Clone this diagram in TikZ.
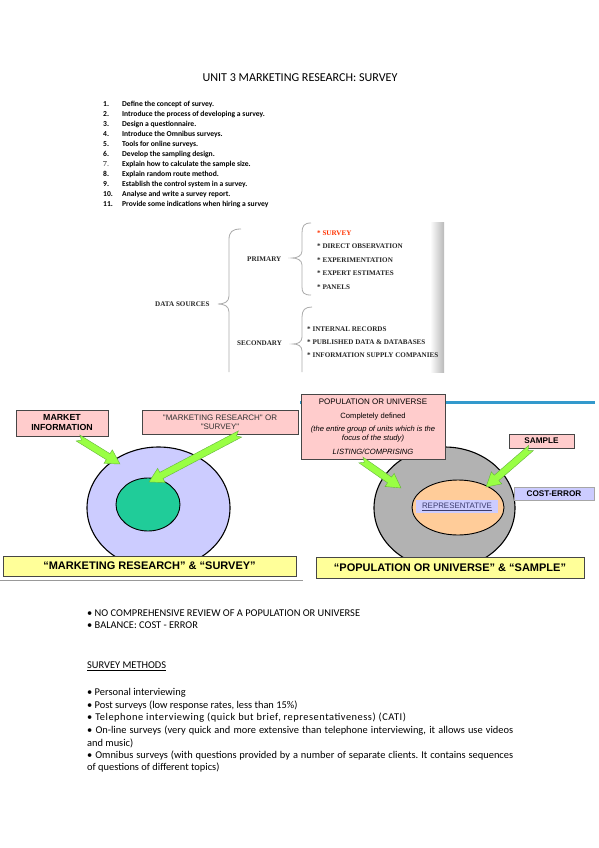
\documentclass[tikz,border=0pt]{standalone}
\usepackage{fontspec}
\setmainfont{Carlito}
\newfontfamily\arialf{Liberation Sans}
\newfontfamily\timesf{Liberation Serif}
\usetikzlibrary{calc,shapes.geometric}
\frenchspacing
\definecolor{pinkfill}{RGB}{255,204,204}
\definecolor{boxline}{RGB}{70,70,70}
\definecolor{lavender}{RGB}{204,204,255}
\definecolor{teal}{RGB}{32,204,153}
\definecolor{greyc}{RGB}{178,178,178}
\definecolor{orangec}{RGB}{255,204,153}
\definecolor{yellowc}{RGB}{255,255,153}
\definecolor{arrowfill}{RGB}{153,255,68}
\definecolor{arrowline}{RGB}{100,180,60}
\definecolor{bluebar}{RGB}{51,153,204}
\definecolor{surveyred}{RGB}{255,51,0}
\definecolor{reptext}{RGB}{60,60,110}
\tikzset{
  box/.style={draw=boxline, line width=0.7pt, inner sep=0pt, align=center},
  ds/.style={font=\timesf\bfseries\fontsize{7.1}{8.5}\selectfont, anchor=west, inner sep=0pt, text=black!85},
  brace/.style={draw=gray!65, line width=0.8pt},
  lst/.style={font=\bfseries\fontsize{7.6}{8.5}\selectfont, anchor=west, inner sep=0pt},
  body/.style={font=\fontsize{10.4}{12}\selectfont, anchor=west, inner sep=0pt},
  ar/.style={font=\arialf\fontsize{8}{9.5}\selectfont, inner sep=0pt},
  arb/.style={font=\arialf\bfseries\fontsize{8.2}{9.5}\selectfont, inner sep=0pt},
  ari/.style={font=\arialf\itshape\fontsize{7.6}{9}\selectfont, inner sep=0pt},
  big/.style={font=\arialf\bfseries\fontsize{11}{13}\selectfont},
  circ/.style={ellipse, draw=black, line width=1.1pt, inner sep=0pt}
}
\newcommand{\blockarr}[2]{%
  \coordinate (ah) at ($(#2)!14pt!(#1)$);
  \filldraw[fill=arrowfill, draw=arrowline, line width=0.4pt, line join=miter]
    ($(#1)!3.5pt!90:(#2)$) -- ($(ah)!3.5pt!90:(#2)$) -- ($(ah)!8pt!90:(#2)$) -- (#2)
    -- ($(ah)!8pt!-90:(#2)$) -- ($(ah)!3.5pt!-90:(#2)$) -- ($(#1)!3.5pt!-90:(#2)$)
    -- ($(#1)!4pt!(#2)$) -- cycle;
}
\begin{document}
\begin{tikzpicture}[x=1pt,y=-1pt]
\fill[white] (0,0) rectangle (599,848);
\useasboundingbox (0,0) rectangle (599,848);

% title
\node[inner sep=0pt, font=\fontsize{12.1}{14}\selectfont] (title) at (300,78) {UNIT 3 MARKETING RESEARCH: SURVEY};

% objectives list
\foreach \n/\t [count=\i] in {1./Define the concept of survey.,
  2./Introduce the process of developing a survey.,
  3./Design a questionnaire.,
  4./Introduce the Omnibus surveys.,
  5./Tools for online surveys.,
  6./Develop the sampling design.,
  7./Explain how to calculate the sample size.,
  8./Explain random route method.,
  9./Establish the control system in a survey.,
  10./Analyse and write a survey report.,
  11./Provide some indications when hiring a survey}{
  \node[lst] (l\i) at (122,{94+10*\i}) {\t};
}
\foreach \n [count=\i] in {1.,2.,3.,4.,5.,6.,7.,8.,9.,10.,11.}{
  \node[lst, text=black] (n\i) at (103,{94+10*\i}) {\n};
}
\node[lst, fill=white, text=gray] (n7g) at (103,164) {7.};

% data sources
\shade[left color=white, right color=gray!55] (430,222) rectangle (444,372);
\node[ds] (dsrc) at (155,304) {DATA SOURCES};
\node[ds] (prim) at (247,259) {PRIMARY};
\node[ds] (sec) at (237,343) {SECONDARY};
\draw[brace] (241,229) .. controls (232,229) and (229,232) .. (229,240) -- (229,296)
  .. controls (229,302) and (224,304) .. (218,304) .. controls (224,304) and (229,306) .. (229,312) -- (229,372);
\draw[brace] (311,223) .. controls (304,223) and (302,226) .. (302,233) -- (302,251)
  .. controls (302,256) and (297,258) .. (292,258) .. controls (297,258) and (302,260) .. (302,265) -- (302,287)
  .. controls (302,293) and (304,295) .. (311,295);
\draw[brace] (312,307) .. controls (305,307) and (302,310) .. (302,317) -- (302,337)
  .. controls (302,342) and (298,344) .. (293,344) .. controls (298,344) and (302,346) .. (302,351) -- (302,372);
\node[ds, text=surveyred] (p1) at (317,233) {* SURVEY};
\node[ds] (p2) at (317,246.5) {* DIRECT OBSERVATION};
\node[ds] (p3) at (317,260) {* EXPERIMENTATION};
\node[ds] (p4) at (317,273) {* EXPERT ESTIMATES};
\node[ds] (p5) at (317,287) {* PANELS};
\node[ds] (s1) at (307,329) {* INTERNAL RECORDS};
\node[ds] (s2) at (307,342) {* PUBLISHED DATA \& DATABASES};
\node[ds] (s3) at (307,355) {* INFORMATION SUPPLY COMPANIES};

% ---------- left panel ----------
\node[circ, fill=lavender, minimum width=143pt, minimum height=122pt] (bigL) at (158.5,508) {};
\node[circ, fill=teal, line width=0.9pt, minimum width=64pt, minimum height=53pt] (innerL) at (148,504.5) {};
\node[box, fill=pinkfill, minimum width=92pt, minimum height=26pt, font=\arialf\bfseries\fontsize{8.8}{10}\selectfont] (mi) at (62,423) {MARKET\\INFORMATION};
\node[box, fill=pinkfill, minimum width=156pt, minimum height=24pt, font=\arialf\fontsize{8}{9.5}\selectfont, text=black!80] (mrs) at (220,422) {"MARKETING RESEARCH" OR\\"SURVEY"};
\coordinate (ta1) at (78,438);
\coordinate (tp1) at (120,464);
\coordinate (ta2) at (240,434);
\coordinate (tp2) at (149,482);
\blockarr{ta1}{tp1}
\blockarr{ta2}{tp2}
\node[box, fill=yellowc, minimum width=293pt, minimum height=20pt, big] (yl) at (149.5,566) {“MARKETING RESEARCH” \& “SURVEY”};
\draw[gray!80, line width=1.2pt] (0,580.5) -- (303,580.5);

% ---------- right panel ----------
\fill[bluebar] (300,400.5) rectangle (595,404);
\node[circ, fill=greyc, minimum width=141pt, minimum height=122pt] (bigR) at (444.5,508) {};
\node[circ, fill=orangec, line width=0.9pt, minimum width=92pt, minimum height=55pt] (innerR) at (458,507.5) {};
\node[fill=lavender, minimum width=82pt, minimum height=13pt, inner sep=0pt, font=\arialf\fontsize{7.9}{9}\selectfont, text=reptext] (rep) at (457,506.5) {\underline{REPRESENTATIVE}};
\node[box, fill=pinkfill, minimum width=144pt, minimum height=65pt] (pop) at (373,426.5) {};
\node[ar] (pt1) at (373,402) {POPULATION OR UNIVERSE};
\node[ar, font=\arialf\fontsize{7.6}{9}\selectfont] (pt2) at (373,416.5) {Completely defined};
\node[ari] (pt3) at (373,430) {(the entire group of units which is the};
\node[ari] (pt4) at (373,438.5) {focus of the study)};
\node[ari] (pt5) at (373,452) {LISTING/COMPRISING};
\node[box, fill=pinkfill, minimum width=65pt, minimum height=14pt, arb] (smp) at (541.5,441) {SAMPLE};
\node[box, draw=gray!70, fill=lavender, minimum width=80pt, minimum height=13pt, arb] (ce) at (554,493.5) {COST-ERROR};
\coordinate (ta3) at (361,460);
\coordinate (tp3) at (401,488);
\coordinate (ta4) at (531,448);
\coordinate (tp4) at (486,487);
\blockarr{ta3}{tp3}
\blockarr{ta4}{tp4}
\node[box, fill=yellowc, minimum width=268pt, minimum height=21pt, big] (yr) at (450,567.5) {“POPULATION OR UNIVERSE” \& “SAMPLE”};

% ---------- body text ----------
\node[body] (b1) at (87,613) {• NO COMPREHENSIVE REVIEW OF A POPULATION OR UNIVERSE};
\node[body] (b2) at (87,625.5) {• BALANCE: COST - ERROR};
\node[body] (hd) at (87,666) {\underline{SURVEY METHODS}};
\node[body] (m1) at (87,693) {• Personal interviewing};
\node[body] (m2) at (87,705.5) {• Post surveys (low response rates, less than 15\%)};
\node[body] (m3) at (87,718) {\addfontfeature{LetterSpace=5}• Telephone interviewing (quick but brief, representativeness) (CATI)};
\node[body] (m4) at (87,730.5) {\makebox[426pt][s]{• On-line surveys (very quick and more extensive than telephone interviewing, it allows use videos}};
\node[body] (m4b) at (87,743) {and music)};
\node[body] (m5) at (87,755.5) {\makebox[426pt][s]{• Omnibus surveys (with questions provided by a number of separate clients. It contains sequences}};
\node[body] (m5b) at (87,768) {of questions of different topics)};
\end{tikzpicture}
\end{document}
